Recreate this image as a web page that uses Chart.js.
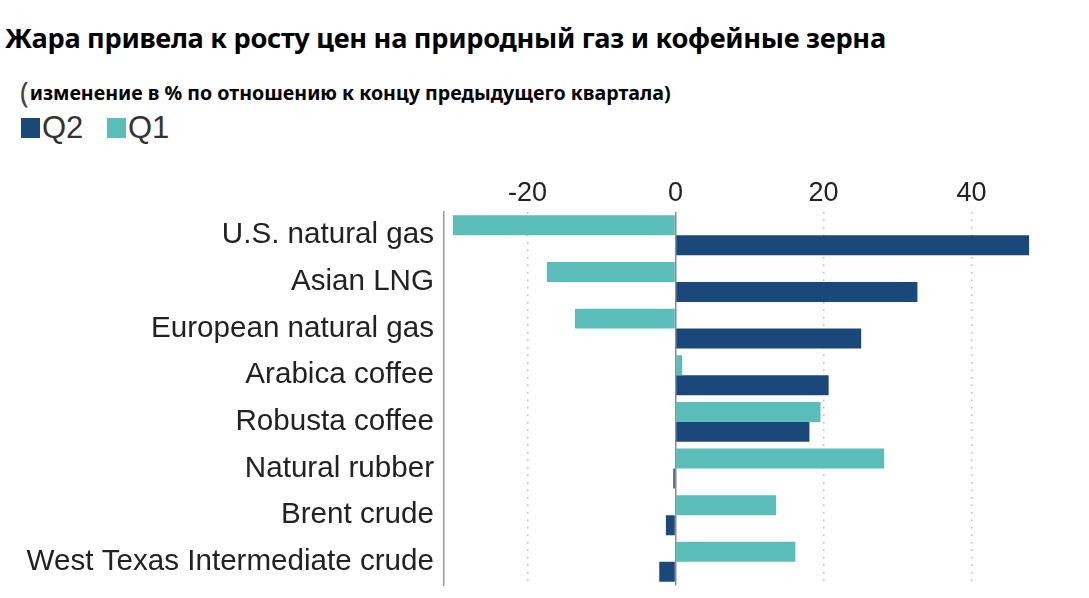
<!DOCTYPE html>
<html>
<head>
<meta charset="utf-8">
<script src="https://cdn.jsdelivr.net/npm/chart.js@4/dist/chart.umd.min.js"></script>
<style>
    body { margin: 0; background: #fff; width: 1089px; height: 598px; overflow: hidden; position: relative; }
    #title { position: absolute; left: 5px; top: 19px; font: bold 27.2px "Noto Sans", sans-serif; color: #000; white-space: nowrap; letter-spacing: -0.3px; }
    #sub { position: absolute; left: 20px; top: 72px; font: bold 19.6px "Noto Sans", sans-serif; color: #000; white-space: nowrap; }
    #sub .paren { font-weight: normal; font-size: 29px; color: #444; vertical-align: -3px; margin-right: 1px; }
    #legend { position: absolute; left: 0; top: 110px; font: 31px "Liberation Sans", Arial, sans-serif; color: #333; }
    #legend .item { position: absolute; top: 0; white-space: nowrap; }
    #legend .box { position: absolute; top: 8px; width: 19px; height: 20px; }
    #legend .txt { position: absolute; top: 0; line-height: 36px; }
    #wrap { position: absolute; left: 0; top: 140px; width: 1089px; height: 467px; }
</style>
</head>
<body>
<div id="title">Жара привела к росту цен на природный газ и кофейные зерна</div>
<div id="sub"><span class="paren">(</span>изменение в % по отношению к концу предыдущего квартала)</div>
<div id="legend"></div>
<div id="wrap"><canvas id="chart"></canvas></div>
<script>
// ====== DATA ======
const categories = [
    'U.S. natural gas',
    'Asian LNG',
    'European natural gas',
    'Arabica coffee',
    'Robusta coffee',
    'Natural rubber',
    'Brent crude',
    'West Texas Intermediate crude'
];
const q1Values = [-30.1, -17.4, -13.6, 0.9, 19.6, 28.2, 13.6, 16.2];
const q2Values = [47.8, 32.7, 25.1, 20.7, 18.1, -0.3, -1.3, -2.2];
const tickValues = [-20, 0, 20, 40];

// ====== STYLE ======
const Q1_COLOR = '#5bbdb9';
const Q2_COLOR = '#1b487a';
const FONT = '"Liberation Sans", Arial, sans-serif';

// legend: Q2 first, then Q1 (as in the original)
const legendItems = [
    { label: 'Q2', color: Q2_COLOR, x: 21 },
    { label: 'Q1', color: Q1_COLOR, x: 107 }
];
document.getElementById('legend').innerHTML = legendItems.map(item =>
    `<div class="item" style="left:${item.x}px">
        <div class="box" style="left:0;background:${item.color}"></div>
        <div class="txt" style="left:21px">${item.label}</div>
    </div>`
).join('');

const chart = new Chart(document.getElementById('chart'), {
    type: 'bar',
    data: {
        labels: categories,
        datasets: [
            { label: 'Q1', data: q1Values, backgroundColor: Q1_COLOR },
            { label: 'Q2', data: q2Values, backgroundColor: Q2_COLOR }
        ]
    },
    options: {
        indexAxis: 'y',
        responsive: true,
        maintainAspectRatio: false,
        animation: false,
        layout: { padding: { left: 10, right: 51, bottom: 0, top: 0 } },
        datasets: { bar: { categoryPercentage: 0.856, barPercentage: 1.0 } },
        plugins: {
            tooltip: { enabled: false },
            legend: { display: false }
        },
        scales: {
            x: {
                position: 'top',
                min: -31.3,
                max: 49,
                afterBuildTicks: scale => {
                    scale.ticks = tickValues.map(v => ({ value: v }));
                },
                afterFit: scale => { scale.height = 72; },
                ticks: {
                    color: '#222',
                    padding: 2,
                    font: { family: FONT, size: 27 }
                },
                grid: {
                    drawTicks: false,
                    color: ctx => ctx.tick && ctx.tick.value === 0 ? '#8a8a8a' : '#b8b8b8',
                    lineWidth: 1.5
                },
                border: {
                    display: false,
                    dash: ctx => ctx.tick && ctx.tick.value === 0 ? [] : [1.5, 6]
                }
            },
            y: {
                afterFit: scale => { scale.width = 434; },
                ticks: {
                    color: '#222',
                    padding: 10,
                    font: { family: FONT, size: 29.6, lineHeight: 0.8 }
                },
                grid: { display: false, drawTicks: false },
                border: { display: true, color: '#9a9a9a', width: 1.5 }
            }
        }
    }
});
</script>
</body>
</html>
